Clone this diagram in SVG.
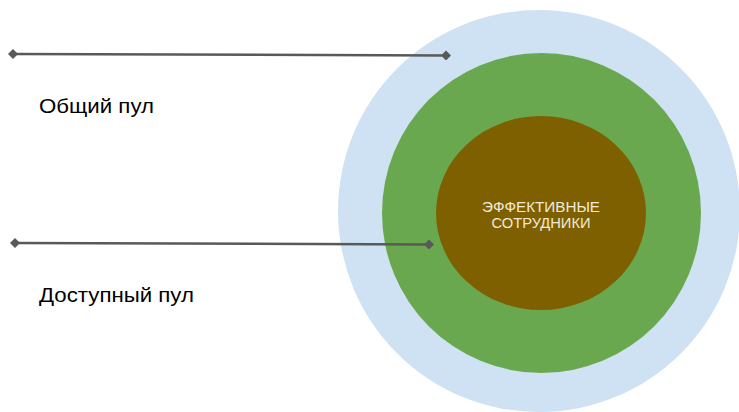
<svg xmlns="http://www.w3.org/2000/svg" width="739" height="412" viewBox="0 0 739 412">
<defs>
<marker id="dia" viewBox="0 0 10 10" refX="5" refY="5" markerWidth="4" markerHeight="4" orient="auto" markerUnits="strokeWidth">
<path d="M0 5 L5 0 L10 5 L5 10 Z" fill="#595959"/>
</marker>
<style>
.lbl{font-family:"Liberation Sans",Arial,sans-serif;font-size:21px;fill:#000}
.in{font-family:"Liberation Sans",Arial,sans-serif;font-size:14px;fill:#f2ead6;text-anchor:middle}
.con{stroke:#595959;stroke-width:2.5;fill:none;marker-start:url(#dia);marker-end:url(#dia)}
</style>
</defs>
<rect width="739" height="412" fill="#fff"/>
<g id="outer"><circle cx="539" cy="211" r="201" fill="#cfe2f3"/></g>
<g id="middle"><ellipse cx="541.5" cy="213" rx="159.5" ry="160" fill="#6aa84f"/></g>
<g id="inner"><ellipse cx="541" cy="213" rx="105" ry="97" fill="#7f6000"/>
<text class="in" x="541" y="211.5" textLength="118" lengthAdjust="spacingAndGlyphs">ЭФФЕКТИВНЫЕ</text>
<text class="in" x="541" y="228" textLength="99" lengthAdjust="spacingAndGlyphs">СОТРУДНИКИ</text></g>
<g id="connectors">
<path class="con" d="M13 54 L446 55.5"/>
<path class="con" d="M15 243 L429 244.5"/>
</g>
<g id="label1"><text class="lbl" x="39" y="113" textLength="115" lengthAdjust="spacingAndGlyphs">Общий пул</text></g>
<g id="label2"><text class="lbl" x="39" y="302" textLength="155" lengthAdjust="spacingAndGlyphs">Доступный пул</text></g>
</svg>
